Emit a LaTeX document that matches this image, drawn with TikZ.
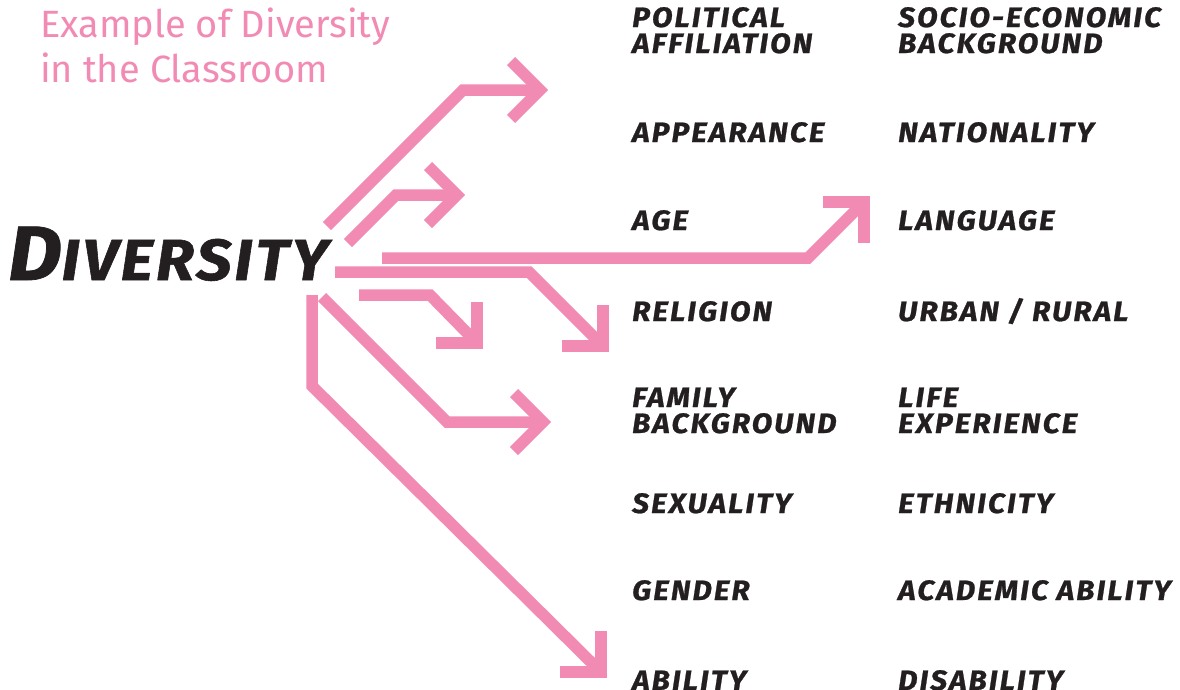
\documentclass[tikz,border=0pt]{standalone}
\usepackage{fontspec}
\setmainfont{Fira Sans}
\newfontfamily\labfont{Fira Sans}[LetterSpace=7.5,FakeStretch=1.07,FakeBold=0.9]
\newfontfamily\divfont{Fira Sans}[LetterSpace=5,FakeStretch=1.08,FakeBold=1]
\definecolor{dpink}{RGB}{242,139,180}
\definecolor{dtext}{RGB}{35,31,32}
\tikzset{
  conn/.style={draw=dpink, line width=11.5pt, line join=miter, line cap=butt},
  head/.style={draw=dpink, line width=11.5pt, line join=miter, miter limit=10, line cap=butt},
  lab/.style={inner sep=0pt, anchor=base west, align=left, text=dtext,
    font=\labfont\bfseries\itshape\fontsize{28}{26}\selectfont},
  title/.style={inner sep=0pt, anchor=base west, align=left, text=dpink,
    font=\fontsize{38}{45}\selectfont}
}
\begin{document}
\begin{tikzpicture}[x=1pt,y=-1pt]
\useasboundingbox (0,0) rectangle (1180,689);
% title
\node[title] (title) at (40,82) {Example of Diversity\\in the Classroom};
% main word
\node[inner sep=0pt, anchor=base west, text=dtext, font=\divfont\bfseries\itshape] (div) at (8,280)
  {{\fontsize{77}{77}\selectfont D}{\fontsize{58}{58}\selectfont IVERSITY}};
% labels column 1
\node[lab] (pol) at (632,53) {POLITICAL\\AFFILIATION};
\node[lab] (app) at (632,142) {APPEARANCE};
\node[lab] (age) at (632,230) {AGE};
\node[lab] (rel) at (632,321) {RELIGION};
\node[lab] (fam) at (632,433) {FAMILY\\BACKGROUND};
\node[lab] (sex) at (632,513) {SEXUALITY};
\node[lab] (gen) at (632,600) {GENDER};
\node[lab] (abi) at (632,690) {ABILITY};
% labels column 2
\node[lab] (soc) at (898,53) {SOCIO-ECONOMIC\\BACKGROUND};
\node[lab] (nat) at (898,142) {NATIONALITY};
\node[lab] (lan) at (898,230) {LANGUAGE};
\node[lab] (urb) at (898,321) {URBAN / RURAL};
\node[lab] (lif) at (898,433) {LIFE\\EXPERIENCE};
\node[lab] (eth) at (898,513) {ETHNICITY};
\node[lab] (aca) at (898,600) {ACADEMIC ABILITY};
\node[lab] (dis) at (898,690) {DISABILITY};
% arrow coordinates
\coordinate (a1s) at (327,226); \coordinate (a1c) at (463,90); \coordinate (a1t) at (540,90);
\coordinate (a2s) at (348,243); \coordinate (a2c) at (396,195); \coordinate (a2t) at (457,195);
\coordinate (a3s) at (382,258); \coordinate (a3c) at (808,258); \coordinate (a3t) at (864,202);
\coordinate (a4s) at (335,272); \coordinate (a4c) at (529,272); \coordinate (a4t) at (603,346);
\coordinate (a5s) at (359,295); \coordinate (a5c) at (430,295); \coordinate (a5t) at (477,343);
\coordinate (a6s) at (322,297); \coordinate (a6c) at (447,422); \coordinate (a6t) at (543,422);
\coordinate (a7s) at (312,295); \coordinate (a7c) at (312,386); \coordinate (a7t) at (601,672);
% connectors
\draw[conn] (a1s) -- (a1c) -- (a1t);
\draw[head] ([shift={(-29,-29)}]a1t) -- (a1t) -- ([shift={(-29,29)}]a1t);
\draw[conn] (a2s) -- (a2c) -- (a2t);
\draw[head] ([shift={(-29,-29)}]a2t) -- (a2t) -- ([shift={(-29,29)}]a2t);
\draw[conn] (a3s) -- (a3c) -- (a3t);
\draw[head] ([shift={(-41,0)}]a3t) -- (a3t) -- ([shift={(0,41)}]a3t);
\draw[conn] (a4s) -- (a4c) -- (a4t);
\draw[head] ([shift={(-41,0)}]a4t) -- (a4t) -- ([shift={(0,-41)}]a4t);
\draw[conn] (a5s) -- (a5c) -- (a5t);
\draw[head] ([shift={(-41,0)}]a5t) -- (a5t) -- ([shift={(0,-41)}]a5t);
\draw[conn] (a6s) -- (a6c) -- (a6t);
\draw[head] ([shift={(-29,-29)}]a6t) -- (a6t) -- ([shift={(-29,29)}]a6t);
\draw[conn] (a7s) -- (a7c) -- (a7t);
\draw[head] ([shift={(-41,0)}]a7t) -- (a7t) -- ([shift={(0,-41)}]a7t);
\end{tikzpicture}
\end{document}
